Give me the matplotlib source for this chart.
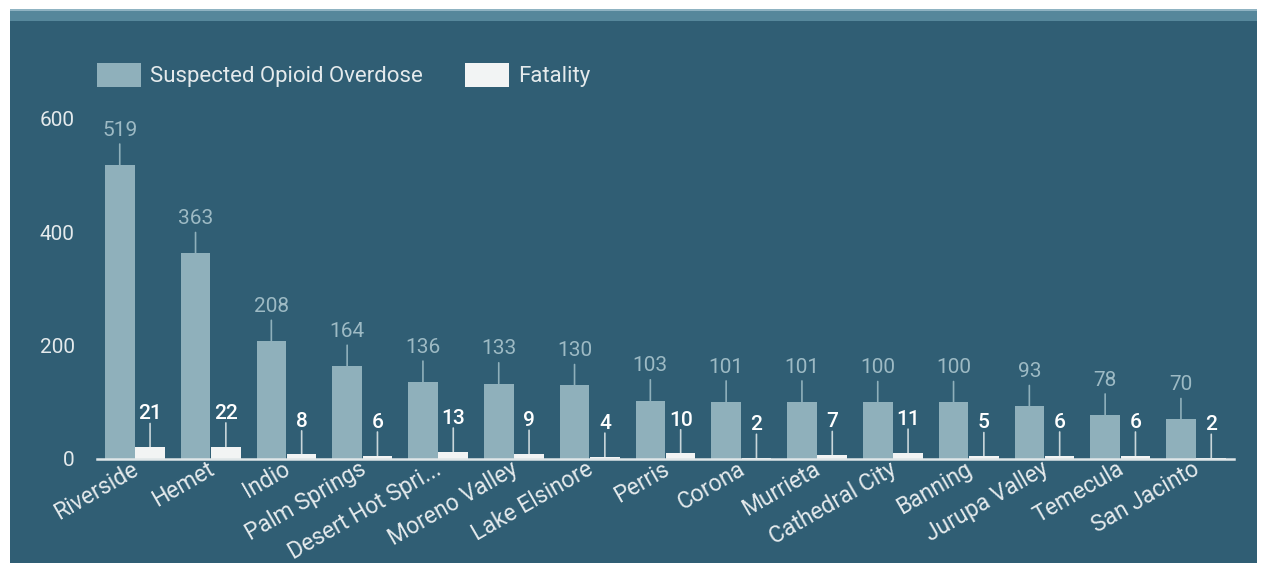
import matplotlib
matplotlib.use("Agg")
import matplotlib.pyplot as plt
import matplotlib.transforms as mtransforms
from matplotlib.patches import Rectangle, Patch
import numpy as np

plt.rcParams['font.family'] = ['Roboto', 'DejaVu Sans']

cities = ["Riverside", "Hemet", "Indio", "Palm Springs", "Desert Hot Spri...",
          "Moreno Valley", "Lake Elsinore", "Perris", "Corona", "Murrieta",
          "Cathedral City", "Banning", "Jurupa Valley", "Temecula", "San Jacinto"]
overdoses = [519, 363, 208, 164, 136, 133, 130, 103, 101, 101, 100, 100, 93, 78, 70]
fatalities = [21, 22, 8, 6, 13, 9, 4, 10, 2, 7, 11, 5, 6, 6, 2]
y_ticks = [0, 200, 400, 600]

W, H = 1261, 565
BG = "#305e74"
STRIPE = "#56879b"
BAR = "#8fb0bb"
FATAL = "#f2f4f4"
TEXT = "#e4eaec"
LABEL_BLUE = "#9dbac4"

fig = plt.figure(figsize=(W / 100, H / 100), dpi=100, facecolor="white")

# dark panel behind the chart, with a lighter strip along its top edge
fig.patches.append(Rectangle((10 / W, 1 - 563 / H), 1247 / W, 554 / H,
                             transform=fig.transFigure, facecolor=BG,
                             edgecolor="none", zorder=-10))
fig.patches.append(Rectangle((10 / W, 1 - 21 / H), 1247 / W, 12 / H,
                             transform=fig.transFigure, facecolor=STRIPE,
                             edgecolor="none", zorder=-9))
fig.patches.append(Rectangle((10 / W, 1 - 11 / H), 1247 / W, 2 / H,
                             transform=fig.transFigure, facecolor="#8fb3c2",
                             edgecolor="none", zorder=-8))

ax = fig.add_axes([97 / W, 1 - 459 / H, 1137 / W, 340 / H])
ax.set_facecolor("none")

x = np.arange(len(cities))
w = 0.39
ax.bar(x - 0.2, overdoses, width=w, color=BAR, zorder=3)
ax.bar(x + 0.2, fatalities, width=w, color=FATAL, zorder=3)

for xi, v in zip(x - 0.2, overdoses):
    ax.annotate("", xy=(xi, v), xytext=(0, 15), textcoords="offset points",
                arrowprops=dict(arrowstyle="-", color=BAR, lw=1.2,
                                shrinkA=0, shrinkB=0), zorder=2)
    ax.annotate(str(v), xy=(xi, v), xytext=(0, 25), textcoords="offset points",
                ha="center", va="center", color=LABEL_BLUE, fontsize=15,
                annotation_clip=False)

for xi, v in zip(x + 0.2, fatalities):
    ax.annotate("", xy=(xi, v), xytext=(0, 17), textcoords="offset points",
                arrowprops=dict(arrowstyle="-", color="#c9d6da", lw=1.2,
                                shrinkA=0, shrinkB=0), zorder=2)
    ax.annotate(str(v), xy=(xi, v), xytext=(0, 24), textcoords="offset points",
                ha="center", va="center", color="white", fontsize=15,
                fontweight="medium", annotation_clip=False)

ax.set_xlim(-0.5, len(cities) - 0.5)
ax.set_ylim(0, 600)
ax.set_yticks(y_ticks)
ax.set_yticklabels([str(t) for t in y_ticks], color=TEXT, fontsize=15)
ax.tick_params(axis="y", length=0, pad=16)

ax.set_xticks(x)
ax.set_xticklabels(cities, color=TEXT, fontsize=16.5)
ax.tick_params(axis="x", length=0, pad=-1)
shift = mtransforms.ScaledTranslation(-4 / 100, 0, fig.dpi_scale_trans)
for lab in ax.get_xticklabels():
    lab.set_rotation(30)
    lab.set_ha("right")
    lab.set_va("top")
    lab.set_rotation_mode("anchor")
    lab.set_transform(lab.get_transform() + shift)

for side in ("top", "right", "left"):
    ax.spines[side].set_visible(False)
ax.spines["bottom"].set_color("#dfe6e8")
ax.spines["bottom"].set_linewidth(1.8)
ax.spines["bottom"].set_zorder(4)

handles = [Patch(facecolor=BAR, edgecolor="none", label="Suspected Opioid Overdose"),
           Patch(facecolor=FATAL, edgecolor="none", label="Fatality")]
leg = fig.legend(handles=handles, loc="upper left",
                 bbox_to_anchor=(97 / W, 1 - 63 / H), ncol=2, frameon=False,
                 fontsize=16, handlelength=2.0, handleheight=1.26,
                 handletextpad=0.4, columnspacing=1.87, borderpad=0,
                 borderaxespad=0)
for t in leg.get_texts():
    t.set_color(TEXT)

fig.savefig("out.png", dpi=100, facecolor="white")
